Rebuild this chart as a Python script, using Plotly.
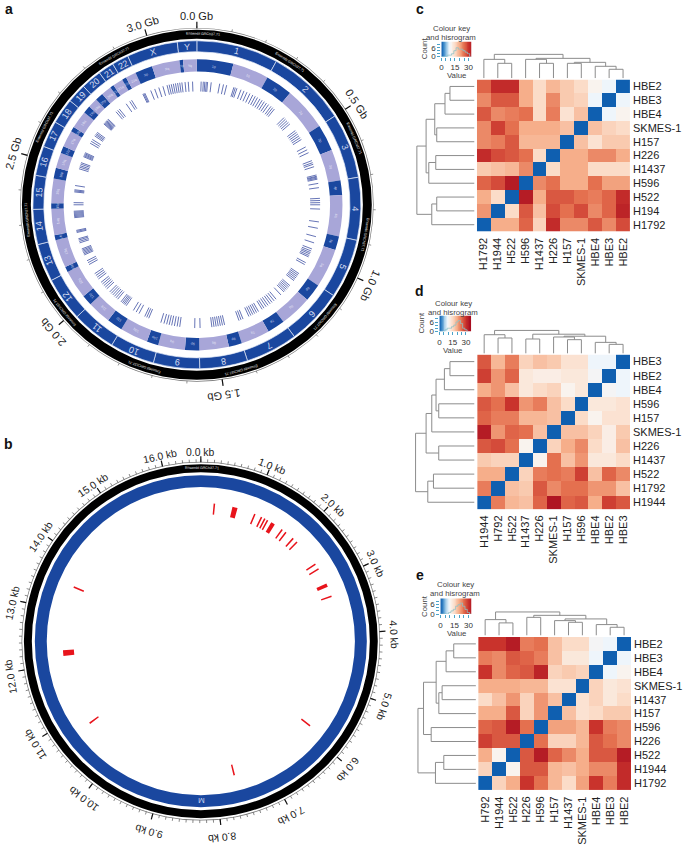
import math
import plotly.graph_objects as go

W, H = 685, 847
FONT = "Liberation Sans"

# ---------- panel a: genome ----------
chrom_names = ["1","2","3","4","5","6","7","8","9","10","11","12","13","14","15","16","17","18","19","20","21","22","X","Y"]
chrom_len_mb = [249,243,198,191,181,171,159,146,141,136,135,134,115,107,103,90,81,78,59,63,48,51,155,59]
centromere_mb = [125,93,91,50,48,61,60,45,49,40,54,36,18,17,19,37,24,17,26,28,13,15,60,12]
genome_ticks_gb = [0.0,0.5,1.0,1.5,2.0,2.5,3.0]
genome_axis_total_gb = 3.144
ensembl_a_deg = [2,33,67,100,131,165,198,231,265,297,331]
variant_a_deg = [2,3,3.7,4.4,5,6.7,10.7,12.5,14,17.5,18.2,19,21,22.5,
    24,25.5,27,28.3,29.5,30.8,32,33.2,34.4,35.6,37,38,39,
    45,46,47,48,49,53,54,55,56,57,58,62,63.5,65,69,70,70.8,72,
    76,76.6,77,77.5,78,80,82,87,88,89,90,92,98,101,105,108,111,112,112.8,113.5,114.3,115,118,119,
    124,124.8,125.6,126.4,127.2,128,131,131.8,132.6,133.4,134.2,135,137,140,141.2,142.4,143.5,144.7,145.8,147,148,
    150,151,152,153,154,155,158,159,160,167,168,169,170,171,172,173,178.5,181,
    188,189.2,190.5,191.8,193,194.2,195.5,197,203,204,205,208,209.5,211,215,215.8,216.5,217.2,218,
    220,221,222,223,224,225,227,228,229,230,231,233,234,235,236,241,242,243,
    246,246.6,247.2,247.8,248.4,249,252,252.7,253.4,254,257,257.5,258,264,264.5,265,265.5,266,266.5,267,270,271,
    276,276.5,277,279,287,287.8,288.5,289.3,290,293,293.5,294,294.5,295,300,301,302,304,304.7,305.3,306,
    311,311.4,311.8,312.2,312.6,313,313.5,314,319,320,321,325,327,328,334,334.5,335,338,340,342,344,
    346,347,348,349,350,351,352,353,354.5,356,358]

# ---------- panel b: mitochondrial ----------
mito_len_kb = 16.569
mito_ticks_kb = list(range(0, 17))
mito_marks_kb = [0.26,0.66,1.06,1.20,1.27,1.33,1.45,1.66,1.75,1.93,2.03,2.58,2.69,3.04,3.27,5.88,7.64,10.75,12.20,13.49]
mito_widths_kb = [0.03,0.10,0.03,0.03,0.03,0.03,0.08,0.03,0.03,0.03,0.03,0.03,0.03,0.07,0.03,0.03,0.03,0.03,0.11,0.03]

# ---------- heatmaps ----------
c_cols = ["H1792","H1944","H522","H596","H1437","H226","H157","SKMES-1","HBE4","HBE3","HBE2"]
c_rows = ["HBE2","HBE3","HBE4","SKMES-1","H157","H226","H1437","H596","H522","H194","H1792"]
c_z = [
 [26,31,31,20,15,19,17,15,11,9,0],
 [23,27,27,20,15,23,17,16,9,0,9],
 [27,23,24,25,15,24,14,18,0,9,11],
 [23,29,25,20,20,20,18,0,18,16,15],
 [23,24,27,19,19,19,0,18,14,17,17],
 [31,28,27,25,15,0,20,20,23,23,20],
 [17,18,19,23,0,15,20,20,15,15,15],
 [26,28,33,0,23,25,20,20,25,21,21],
 [20,15,0,33,20,27,27,25,24,26,31],
 [22,0,15,27,18,28,25,28,23,26,32],
 [0,20,20,26,16,31,23,23,27,23,28]]
c_top = [(1,2,15),(0,11,19),(4,5,15),(3,13,19),(6,7,15),(9,10,9),(8,16,12),(15,17,16),(14,18,20),(12,19,24)]
c_left = [(0,1,24.7),(2,11,29.7),(3,4,38),(12,13,40),(5,6,39),(7,15,46),(14,16,48.7),(8,9,38),(10,18,43),(17,19,58)]
c_hist = [0,0,0,1,1,2,4,6,5,5,4,3,2,0]

d_cols = ["H1944","H792","H522","H1437","H226","SKMES-1","H157","H596","HBE4","HBE2","HBE3"]
d_rows = ["HBE3","HBE2","HBE4","H596","H157","SKMES-1","H226","H1437","H522","H1792","H1944"]
d_z = [
 [27,19,24,16,18,17,14,14,9,9,0],
 [29,22,26,13,12,12,13,13,10,0,9],
 [20,22,18,13,15,16,11,13,0,10,9],
 [27,25,30,22,24,18,15,0,13,13,14],
 [26,24,24,19,19,18,0,15,11,14,14],
 [33,22,26,25,18,0,18,18,16,12,17],
 [27,28,25,11,0,16,20,23,15,12,18],
 [17,16,16,0,11,25,18,22,13,13,15],
 [20,20,0,16,24,25,24,29,18,26,23],
 [24,0,18,17,27,23,25,25,22,22,18],
 [0,24,19,18,26,34,26,27,20,29,27]]
d_top = [(1,2,15.7),(0,11,19),(3,4,14.7),(6,7,14),(5,14,16.7),(9,10,9.3),(8,16,11.3),(15,17,17.5),(13,18,19.5),(12,19,23.3)]
d_left = [(0,1,24.7),(2,11,30.3),(3,4,36),(12,13,38.7),(5,14,43),(6,7,36),(15,16,48.7),(8,9,41.3),(10,18,47),(17,19,59.3)]
d_hist = [0,0,0,1,2,2,3,4,6,7,5,2,1,0]

e_cols = ["H792","H1944","H522","H226","H596","H157","H1437","SKMES-1","HBE4","HBE3","HBE2"]
e_rows = ["HBE2","HBE3","HBE4","SKMES-1","H1437","H157","H596","H226","H522","H1944","H1792"]
e_z = [
 [30,30,33,24,25,18,15,15,10,9,0],
 [24,23,27,26,24,18,13,13,9,0,9],
 [30,23,26,27,32,16,17,16,0,9,11],
 [20,20,20,19,19,14,14,0,16,13,14],
 [15,18,22,16,22,18,0,14,16,13,15],
 [20,20,27,16,22,0,18,14,15,17,17],
 [26,27,33,25,0,21,21,19,30,24,23],
 [29,27,27,0,25,16,16,19,27,25,23],
 [20,11,0,27,33,26,23,20,27,27,33],
 [16,0,11,27,27,19,18,20,23,23,31],
 [0,16,20,30,25,19,15,21,30,24,31]]
e_top = [(1,2,12.7),(0,11,16),(3,4,18.3),(6,7,13.3),(5,14,15),(9,10,8.3),(8,16,11),(15,17,16.7),(13,18,20.3),(12,19,23.7)]
e_left = [(0,1,22.3),(2,11,30),(3,4,34),(5,13,37.3),(12,14,40),(6,7,45),(15,16,52.7),(8,9,32.3),(10,18,40.7),(17,19,58.3)]
e_hist = [0,0,0,0,1,2,3,5,6,7,5,3,1,0]

key_values = [i * 0.5 for i in range(0, 73)]
hist_x = [0,2.5,5,7.5,10,12.5,15,17.5,20,22.5,25,27.5,30,32.5]

colorscale = [[0,"#0f5fb0"],[3/35,"#3f8cca"],[6/35,"#a8d0ea"],[9/35,"#eef5fb"],[11/35,"#f9f3ee"],
              [15/35,"#fbdcc8"],[20/35,"#f6ae8a"],[25/35,"#e4704f"],[30/35,"#c9332c"],[1,"#a80d20"]]

panels = [
 dict(z=c_z,cols=c_cols,rows=c_rows,top=c_top,left=c_left,hist=c_hist,box=(477.7,631.7,80,233),tb=78.7,lb=475.3,
      key=(442,472,42,57),kmax=33,kmaxy=10,cap=(452,29,38),count=(425,49),value=(457,76),letter=("c",420,9)),
 dict(z=d_z,cols=d_cols,rows=d_rows,top=d_top,left=d_left,hist=d_hist,box=(478,631.7,356.7,512.3),tb=355.7,lb=475.3,
      key=(440,472,317.7,333.3),kmax=36,kmaxy=10,cap=(454,305,314),count=(422,325),value=(453,353),letter=("d",420,293)),
 dict(z=e_z,cols=e_cols,rows=e_rows,top=e_top,left=e_left,hist=e_hist,box=(479,632.7,640.7,795),tb=639.3,lb=476.7,
      key=(441,472,602,617.7),kmax=33,kmaxy=10,cap=(456,588,597),count=(425,610),value=(457,637),letter=("e",420,578)),
]

def px(x): return x / W
def py(y): return 1 - y / H

fig = go.Figure()
ann = []
def text(x, y, s, size, color="#222222", angle=0, bold=False):
    ang = (angle + 180) % 360 - 180
    ann.append(dict(x=px(x), y=py(y), xref="paper", yref="paper", text=f"<b>{s}</b>" if bold else s,
                    showarrow=False, xanchor="center", yanchor="middle", textangle=ang,
                    font=dict(family=FONT, size=size, color=color), borderpad=0, borderwidth=0))

def pol(cx, cy, r, deg):
    a = math.radians(deg)
    return cx + r * math.sin(a), cy - r * math.cos(a)

def ring(sub, base, thick, color, theta=[180], width=[360]):
    fig.add_trace(go.Barpolar(r=[thick]*len(theta), base=[base]*len(theta), theta=theta, width=width,
                              marker=dict(color=color, line=dict(width=0)), subplot=sub, showlegend=False, hoverinfo="skip"))

def ticks(sub, deg, r0, r1, color, lw):
    rr, tt = [], []
    for d in deg:
        rr += [r0, r1, None]; tt += [d, d, None]
    fig.add_trace(go.Scatterpolar(r=rr, theta=tt, mode="lines", line=dict(color=color, width=lw), subplot=sub,
                                  showlegend=False, hoverinfo="skip"))

BLUE, LIGHT = "#1a479f", "#a8a6d8"

# ---- panel a ----
CXA, CYA, RA = 196, 206, 190
total_mb = sum(chrom_len_mb)
mb2deg = 360 / total_mb
ring("polar", 177.2, 0.7, "#777777")
ring("polar", 167, 9, "#000000")
starts = [sum(chrom_len_mb[:i]) for i in range(len(chrom_len_mb))]
th = [(s + l/2) * mb2deg for s, l in zip(starts, chrom_len_mb)]
wd = [l * mb2deg for l in chrom_len_mb]
fig.add_trace(go.Barpolar(r=[11]*24, base=[154]*24, theta=th, width=wd,
                          marker=dict(color=BLUE, line=dict(color="#dfe6f5", width=0.7)), subplot="polar",
                          showlegend=False, hoverinfo="skip"))
p_th = [(s + c/2) * mb2deg for s, c in zip(starts, centromere_mb)]
p_wd = [c * mb2deg for c in centromere_mb]
q_th = [(s + c + (l-c)/2) * mb2deg for s, l, c in zip(starts, chrom_len_mb, centromere_mb)]
q_wd = [(l-c) * mb2deg for l, c in zip(chrom_len_mb, centromere_mb)]
arm_th, arm_wd, arm_col = [], [], []
for a, aw, b, bw in zip(p_th, p_wd, q_th, q_wd):
    arm_th += [a, b]; arm_wd += [aw, bw]; arm_col += [BLUE, LIGHT]
fig.add_trace(go.Barpolar(r=[12.5]*48, base=[134]*48, theta=arm_th, width=arm_wd,
                          marker=dict(color=arm_col, line=dict(width=0)),
                          subplot="polar", showlegend=False, hoverinfo="skip"))
ticks("polar", variant_a_deg, 114, 124, "#3f51a3", 0.8)
gb2deg = 360 / genome_axis_total_gb
minor = [i/10 * gb2deg for i in range(0, 31)]
ticks("polar", minor, 177.5, 180, "#666666", 0.7)
ticks("polar", [g * gb2deg for g in genome_ticks_gb], 177.5, 184, "#111111", 1.2)
for g in genome_ticks_gb:
    x, y = pol(CXA, CYA, 192, g * gb2deg)
    text(x, y + 2, f"{g:.1f} Gb", 11, "#222222", g * gb2deg)
for n, t in zip(chrom_names, th):
    x, y = pol(CXA, CYA, 159.5, t)
    text(x, y, n, 9, "#d5dcf0", t)
for n, a, b in zip(chrom_names, p_th, q_th):
    x, y = pol(CXA, CYA, 140, a); text(x, y, n + "p", 3.5, "#c8d0ea", a)
    x, y = pol(CXA, CYA, 140, b); text(x, y, n + "q", 3.5, "#e4e4f4", b)
for d in ensembl_a_deg:
    x, y = pol(CXA, CYA, 171.5, d)
    text(x, y, "Ensembl GRCh37.71", 3.6, "#e8e8e8", d)

# ---- panel b ----
CXB, CYB, RB = 200, 645, 200
kb2deg = 360 / mito_len_kb
ring("polar2", 179.7, 0.7, "#777777")
ring("polar2", 170, 8, "#000000")
ring("polar2", 155, 12, BLUE)
fig.add_trace(go.Barpolar(r=[11]*len(mito_marks_kb), base=[128]*len(mito_marks_kb),
                          theta=[m * kb2deg for m in mito_marks_kb], width=[w * kb2deg for w in mito_widths_kb],
                          marker=dict(color="#e8141c", line=dict(width=0)), subplot="polar2", showlegend=False, hoverinfo="skip"))
ticks("polar2", [i/10 * kb2deg for i in range(0, 166)], 180, 183, "#555555", 0.7)
ticks("polar2", [k * kb2deg for k in mito_ticks_kb], 180, 186, "#111111", 1.2)
for k in mito_ticks_kb:
    x, y = pol(CXB, CYB, 194, k * kb2deg)
    text(x, y + 4, f"{k:.1f} kb", 10.4, "#222222", k * kb2deg)
x, y = pol(CXB, CYB, 161, 180); text(x, y, "M", 8, "#c9d3ee", 180)
x, y = pol(CXB, CYB, 174, 0.5); text(x, y, "Ensembl GRCh37.71", 3.6, "#e8e8e8", 0.5)

def dendro_path(merges, n=11):
    pos = {i: (float(i), 0.0) for i in range(n)}
    a_list, h_list = [], []
    for k, (a, b, h) in enumerate(merges):
        pa, ha = pos[a]; pb, hb = pos[b]
        a_list += [pa, pa, pb, pb, None]
        h_list += [ha, h, h, hb, None]
        pos[n + k] = ((pa + pb) / 2, h)
    return a_list, h_list

layout_axes = {}
axn = 1
def next_axes():
    global axn
    s = "" if axn == 1 else str(axn)
    axn += 1
    return s

GRAY = "#8c8c8c"
for p in panels:
    x0, x1, y0, y1 = p["box"]
    s = next_axes()
    fig.add_trace(go.Heatmap(z=p["z"], x=list(range(11)), y=list(range(11)), colorscale=colorscale, zmin=0, zmax=35,
                             showscale=False, xaxis="x"+s, yaxis="y"+s, hoverinfo="skip"))
    layout_axes["xaxis"+s] = dict(domain=[px(x0), px(x1)], range=[-0.5, 10.5], tickvals=list(range(11)), ticktext=p["cols"],
                                  tickangle=-90, side="bottom", ticks="", showgrid=False, zeroline=False, showline=False,
                                  ticklabelstandoff=3, tickfont=dict(family=FONT, size=11, color="#222222"), anchor="y"+s)
    layout_axes["yaxis"+s] = dict(domain=[py(y1), py(y0)], range=[10.5, -0.5], tickvals=list(range(11)), ticktext=p["rows"],
                                  side="right", ticks="", showgrid=False, zeroline=False, showline=False,
                                  ticklabelstandoff=2, tickfont=dict(family=FONT, size=11, color="#222222"), anchor="x"+s)
    s = next_axes()
    a_, h_ = dendro_path(p["top"])
    fig.add_trace(go.Scatter(x=a_, y=h_, mode="lines", line=dict(color=GRAY, width=1), xaxis="x"+s, yaxis="y"+s,
                             showlegend=False, hoverinfo="skip"))
    tb = p["tb"]
    layout_axes["xaxis"+s] = dict(domain=[px(x0), px(x1)], range=[-0.5, 10.5], visible=False, anchor="y"+s)
    layout_axes["yaxis"+s] = dict(domain=[py(tb), py(tb - 30)], range=[0, 30], visible=False, anchor="x"+s)
    s = next_axes()
    a_, h_ = dendro_path(p["left"])
    fig.add_trace(go.Scatter(x=h_, y=a_, mode="lines", line=dict(color=GRAY, width=1), xaxis="x"+s, yaxis="y"+s,
                             showlegend=False, hoverinfo="skip"))
    lb = p["lb"]
    layout_axes["xaxis"+s] = dict(domain=[px(lb - 62), px(lb)], range=[62, 0], visible=False, anchor="y"+s)
    layout_axes["yaxis"+s] = dict(domain=[py(y1), py(y0)], range=[10.5, -0.5], visible=False, anchor="x"+s)
    s = next_axes()
    kx0, kx1, ky0, ky1 = p["key"]
    fig.add_trace(go.Heatmap(z=[key_values, key_values], x=key_values, y=[0, p["kmaxy"]], colorscale=colorscale, zmin=0, zmax=35,
                             showscale=False, xaxis="x"+s, yaxis="y"+s, hoverinfo="skip"))
    fig.add_trace(go.Scatter(x=hist_x, y=p["hist"], mode="lines", line=dict(color="#8fc3c6", width=0.8, shape="hvh"),
                             xaxis="x"+s, yaxis="y"+s, showlegend=False, hoverinfo="skip"))
    layout_axes["xaxis"+s] = dict(domain=[px(kx0), px(kx1)], range=[0, p["kmax"]], tickvals=[0,5,10,15,20,25,30],
                                  ticktext=["0","","","15","","","30"], ticks="outside", ticklen=3, tickwidth=0.6, tickcolor="#4aa3c9",
                                  showgrid=False, zeroline=False, showline=False, anchor="y"+s,
                                  tickfont=dict(family=FONT, size=8, color="#333333"))
    layout_axes["yaxis"+s] = dict(domain=[py(ky1), py(ky0)], range=[0, p["kmaxy"]], tickvals=[0,2,4,6,8],
                                  ticktext=["0","","","6",""], ticks="outside", ticklen=3, tickwidth=0.6, tickcolor="#4aa3c9",
                                  showgrid=False, zeroline=False, showline=False, anchor="x"+s,
                                  tickfont=dict(family=FONT, size=8, color="#333333"))
    cx_, c1, c2 = p["cap"]
    text(cx_, c1, "Colour key", 7.8, "#444444")
    text(cx_, c2, "and hisrogram", 7.8, "#444444")
    text(p["count"][0], p["count"][1], "Count", 7.8, "#444444", -90)
    text(p["value"][0], p["value"][1], "Value", 7.8, "#444444")
    l, lx, ly = p["letter"]
    text(lx, ly, l, 14, "#111111", bold=True)

text(7, 9, "a", 14, "#111111", bold=True)
text(7, 447, "b", 14, "#111111", bold=True)

def polar_layout(cx, cy, r):
    return dict(domain=dict(x=[px(cx - r), px(cx + r)], y=[py(cy + r), py(cy - r)]), bgcolor="rgba(0,0,0,0)",
                radialaxis=dict(visible=False, range=[0, r]),
                angularaxis=dict(visible=False, direction="clockwise", rotation=90, thetaunit="degrees"),
                barmode="overlay")

fig.update_layout(width=W, height=H, margin=dict(l=0, r=0, t=0, b=0), autosize=False,
                  paper_bgcolor="white", plot_bgcolor="white", showlegend=False, annotations=ann,
                  polar=polar_layout(CXA, CYA, RA), polar2=polar_layout(CXB, CYB, RB),
                  font=dict(family=FONT), **layout_axes)
fig.write_html("out.html", config=dict(displayModeBar=False),
               post_script="document.body.style.margin='0';document.documentElement.style.overflow='hidden';")
